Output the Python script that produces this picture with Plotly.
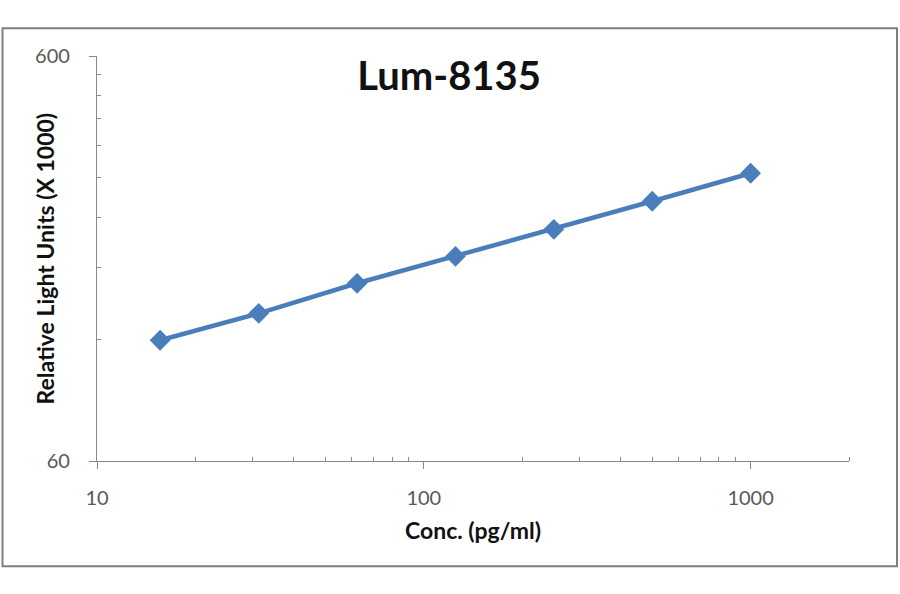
import plotly.graph_objects as go

# standard curve, Lum-8135
conc = [15.6, 31.25, 62.5, 125, 250, 500, 1000]
rlu = [119.2, 138.9, 164.8, 192.1, 224.0, 262.7, 308.1]

x_ticks = [10, 100, 1000]
y_ticks = [60, 600]
x_minor = [k * 10 ** d for d in (1, 2, 3) for k in range(2, 10) if k * 10 ** d <= 2000]
y_minor = [60 * k for k in range(2, 10)]

blue = "#4a7ebb"
grey = "#898989"
txt = "#595959"

# plot area in pixels (for the outer frame)
L, R, T, B = 97, 849, 55.7, 460.7
pw, ph = R - L, B - T

fig = go.Figure()
fig.add_trace(go.Scatter(
    x=conc, y=rlu, mode="lines+markers",
    line=dict(color=blue, width=4.5),
    marker=dict(symbol="diamond", size=16, color=blue),
    showlegend=False,
))

axis_common = dict(
    type="log",
    showgrid=False, zeroline=False,
    showline=True, linecolor=grey, linewidth=1.3,
    ticks="outside", ticklen=7, tickcolor=grey, tickwidth=1.3,
    tickfont=dict(family="Lato", size=20, color=txt),
)

fig.update_xaxes(
    **axis_common,
    range=[1, 3.30103],
    tickmode="array", tickvals=x_ticks, ticktext=[str(v) for v in x_ticks],
    ticklabelstandoff=12,
    minor=dict(tickmode="array", tickvals=x_minor, ticks="inside",
               ticklen=4, tickcolor=grey, tickwidth=1),
    title=dict(text="<b>Conc. (pg/ml)</b>", standoff=14,
               font=dict(family="Lato", size=23, color="#111111")),
)
fig.update_yaxes(
    **axis_common,
    range=[1.778151, 2.778151],
    tickmode="array", tickvals=y_ticks, ticktext=[str(v) for v in y_ticks],
    ticklabelstandoff=15,
    minor=dict(tickmode="array", tickvals=y_minor, ticks="inside",
               ticklen=4, tickcolor=grey, tickwidth=1),
)

# y title sits closer to the axis than plotly's auto placement
fig.add_annotation(
    text="<b>Relative Light Units (X 1000)</b>", textangle=-90,
    xref="paper", yref="paper", x=(44 - L) / pw, y=0.5,
    xanchor="center", yanchor="middle", showarrow=False,
    font=dict(family="Lato", size=23, color="#111111"),
)

# outer chart frame
fig.add_shape(
    type="rect", xref="paper", yref="paper",
    x0=(2.5 - L) / pw, x1=(897 - L) / pw,
    y0=(B - 566) / ph, y1=(B - 28) / ph,
    line=dict(color="#7f7f7f", width=2),
)

fig.update_layout(
    width=900, height=594,
    margin=dict(l=L, r=900 - R, t=T, b=594 - B),
    plot_bgcolor="white", paper_bgcolor="white",
    title=dict(text="<b>Lum-8135</b>", x=0.499, xanchor="center",
               y=1 - 76 / 594, yanchor="middle",
               font=dict(family="Lato", size=40, color="#111111")),
)

fig.write_html("out.html", config={"displayModeBar": False},
               post_script="document.body.style.margin='0';")
